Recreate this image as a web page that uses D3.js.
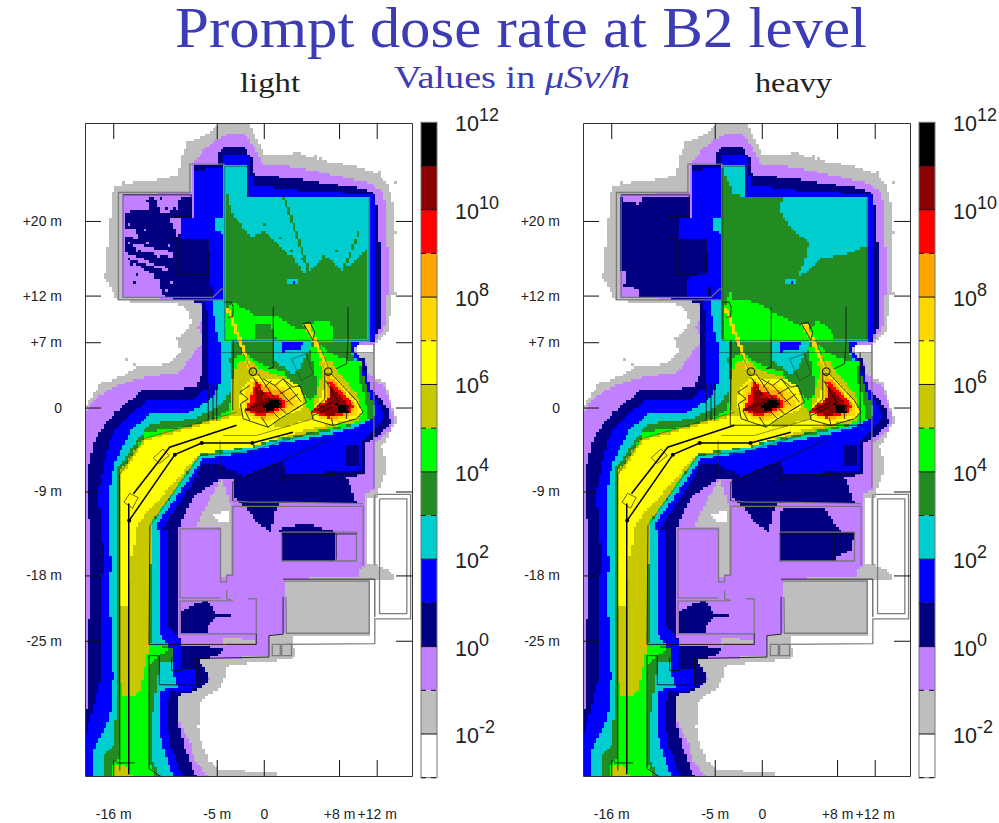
<!DOCTYPE html>
<html lang="en">
<head>
<meta charset="UTF-8">
<title>Prompt dose rate at B2 level</title>
<script src="https://d3js.org/d3.v7.min.js"></script>
<style>
html, body { margin: 0; padding: 0; background: #fff; overflow: hidden; }
.tick text { font-family: "Liberation Sans", Arial, sans-serif; font-size: 14px; fill: #222; }
.serif { font-family: "Liberation Serif", "Times New Roman", serif; }
.bar-label { font-family: "Liberation Sans", Arial, sans-serif; font-size: 21.5px; fill: #222; }
</style>
</head>
<body>
<svg id="chart" width="999" height="823"></svg>
<script>
// dose bands, one decade each, from 1e-3 up to 1e12 uSv/h
const levelColors = ["#ffffff", "#bebebe", "#c080ff", "#000080", "#0000ff", "#00cdcd", "#228b22", "#00ff00",
    "#c8c800", "#ffff00", "#ffd700", "#ffa500", "#ff0000", "#8b0000", "#000000"];
const barExponents = [12, 10, 8, 6, 4, 2, 0, -2];
const xTicks = [-16, -5, 0, 8, 12];
const yTicks = [20, 12, 7, 0, -9, -18, -25];

// contours, in metres. level = index in levelColors
const grayOuter = [[-4.85,30.5],[-1.5,30.5],[-0.8,28.8],[0.1,27.2],[3.5,27.25],[6.3,26.5],[10.2,25.75],[12.3,25],[13.2,23.8],[13.9,21.1],[13.9,14],[13.2,8.25],[11.8,6.8],[11.8,3.25],[12.85,2.7],[14.1,-1.4],[12.5,-4.25],[12.85,-5.3],[12.85,-7.1],[12,-9.25],[11.8,-16.75],[13.55,-17.65],[13.9,-18.35],[11.3,-18.45],[11.25,-24.3],[3.1,-24.5],[3.3,-26.75],[0.3,-27.3],[-3.8,-27.45],[-4.15,-28.9],[-4.65,-30.15],[-6.1,-30.85],[-6.8,-31.75],[-7,-34.25],[-6.6,-36],[-5.9,-37.8],[-4.65,-38.8],[1.4,-39.2],[1.5,-39.8],[-19,-39.8],[-19,0],[-17.4,2.5],[-14.9,3.4],[-13.7,4.3],[-10,4.7],[-8.9,5.9],[-9.1,7.5],[-7.7,9],[-8,10.4],[-8.9,11.1],[-12.8,11.3],[-15.5,11.5],[-16.9,14],[-16.35,20],[-16,23.4],[-14.6,24],[-12.1,24.3],[-9.1,24.85],[-8.75,26.8],[-8.2,28.25],[-5.4,29.7]];
const purpleOuter = [[-4.85,28.8],[-4,29.3],[-2,29.3],[-0.8,27.5],[-0.1,26.1],[3.5,25.75],[7,25],[10.9,24.15],[12.5,23.25],[13,21.8],[13.2,14],[13,9],[12.1,7.5],[11.7,6.8],[11.7,2.9],[12.85,2.2],[13.9,-1],[13.4,-2.5],[11.8,-3.9],[11.8,-8.7],[10.7,-9.25],[10.6,-16.9],[10.1,-17.4],[10.1,-18.25],[2.2,-18.35],[2.2,-24.25],[0.65,-24.3],[0.65,-26.75],[-7,-26.9],[-7,-28.5],[-5.55,-28.9],[-7.15,-30.3],[-9.2,-30.85],[-9.1,-33.5],[-7.85,-36],[-7.3,-37.8],[-5.9,-39.8],[-19,-39.8],[-19,-0.5],[-17.8,1.1],[-16,2.2],[-13.5,3.1],[-8.9,3.8],[-7.5,5.75],[-6.4,7.2],[-7,8.6],[-6.25,10.4],[-7,11.55],[-14.95,11.8],[-14.95,22.9],[-7.7,23.1],[-7.7,26.1],[-6.1,27.9]];
const grayStrip = [[-7.3,-12.8],[-4.45,-7.45],[-3.45,-10.7],[-3.45,-17.9],[-4.45,-18.1],[-4.45,-12.8]];
const grayLedge = [[-4.3,-24.6],[-0.8,-25],[-0.8,-25.3],[-4.3,-25.4]];
const whitePatch = [[-5.4,-11.4],[-3.6,-11],[-3.6,-12.3],[-4.65,-12.2]];
const whiteStrip = [[10.9,-9.6],[11.7,-9.6],[11.7,-16.9],[10.9,-16.9]];
const grayStub = [[9.5,6.7],[11.8,6.7],[11.8,3.25],[11.25,3.25],[10.7,5.2],[9.5,5.6]];
const whiteStub = [[9.8,6.6],[11.5,6.6],[11.5,6],[9.8,6]];
const navyOuter = [[-4.85,27],[-4.3,28],[-2.2,28.05],[-1.3,26.8],[-1.15,25],[3.5,24.5],[10.9,23.4],[11.9,22.9],[12.3,17.5],[12.5,9],[11.9,7.5],[11.7,7],[9.5,6.8],[9.65,5.4],[10.7,5.2],[11.25,2.2],[12.5,0.9],[13.2,-0.3],[13.55,-1.6],[12.15,-3],[10.7,-3.9],[10.7,-6.9],[10.55,-7.1],[8.8,-7.5],[9.85,-10.15],[2.25,-10.15],[1.35,-10.5],[0.8,-13.35],[-0.8,-12.3],[-1.85,-10.7],[-3.1,-9.6],[-3.25,-7.8],[-4.65,-7.65],[-7.5,-9.6],[-9.1,-13],[-9.1,-24.4],[-8.65,-25.5],[-4.3,-25.75],[-4.85,-26.75],[-7,-26.9],[-6.05,-28.5],[-6,-29.4],[-7.15,-30.3],[-9.05,-30.85],[-9.2,-33.5],[-8.55,-36],[-7.15,-39.8],[-19,-39.8],[-19,-32.9],[-18.6,-31.6],[-18.6,-28.9],[-18.85,-26.3],[-18.5,-21.75],[-18.3,-17.5],[-18.3,-12.5],[-18.85,-11.5],[-18.85,-7.1],[-17.95,-3.5],[-16.9,-1.9],[-15.8,-0.5],[-12.8,1.9],[-7.3,2.1],[-6.6,3.6],[-6.5,8.6],[-6.6,11.3],[-10.7,11.8],[-9.25,14.3],[-9.25,18.05],[-7.85,20.4],[-7.5,20.4],[-7.5,25.9],[-4.85,25.9]];
const navyRoomPatch = [[-8.75,-21.75],[-7.5,-21.2],[-6.1,-20.7],[-5,-22.1],[-3.2,-22.3],[-3.2,-22.5],[-5,-22.5],[-6.1,-23.35],[-6.1,-24.25],[-8.75,-24.25]];
const navyLabRoom = [[8.8,-3.9],[10.2,-3.9],[10.2,-6.2],[8.8,-6.2]];

// left room and east rooms are where the two beams differ most
const lightRoomNavy = [[-14.85,20.9],[-12.3,21.3],[-12.3,22.6],[-8.9,22.7],[-7.7,22.7],[-7.7,20.45],[-10,20.4],[-9.1,18.05],[-9.25,14.3],[-10.75,12],[-11.3,14],[-14.85,16.1]];
const lightRoomHoles = [
    [[-11.55,22.45],[-8.9,22.45],[-9.25,21.1],[-11,20.9]],
    [[-14.7,18.4],[-13.3,18.05],[-13.7,19.1],[-14.7,19.1]],
    [[-14.5,17.7],[-9.6,16.65],[-9.6,16.1],[-13.1,16.8]],
    [[-14.85,16.65],[-10.3,15],[-10.3,14.65],[-14.85,16.1]]
];
const lightEastNavy = [[1.7,-13],[4.5,-12.45],[7.7,-13.35],[7.7,-16.4],[2.05,-16.45],[1.9,-13.9]];
const heavyRoomNavy = [[-14.9,22.7],[-7.6,22.7],[-7.6,11.9],[-13.05,11.9],[-13.25,12.75],[-14.65,12.95],[-14.5,14.7],[-14.9,14.7]];
const heavyRoomHole = [[-14.85,22.6],[-12.7,22.6],[-13.05,21.7],[-13.75,22.05],[-14.85,22.05]];
const heavyEastNavy = [[2.15,-10.7],[6.55,-10.7],[8.3,-13.2],[9.9,-13.4],[9.55,-15.3],[8,-16],[7.8,-16.5],[1.9,-16.5],[1.8,-13.35]];
const heavyRoomBlue = [[-8.1,11.9],[-7.95,13.9],[-5.6,14.6],[-5.6,11.9]];

// isolated mesh bins that stick out of the contours
const graySpecks = [[-16.9,14],[-16.7,16.1],[-16.5,17.55],[-16.2,18.6],[-16,23.8],[-14.9,24.15],[-13.9,24.15],[-11.4,24.5],[-8.2,28.4],[-7.3,28.6],[3.5,27.45],[5.25,27],[5.95,26.8],[12,25.4],[13.7,24.3],[13.9,19],[13.55,12.9],[13.9,12.35],[-7.85,10.7],[-9.45,7.5],[-9.1,7],[-14.75,5.2],[-13.85,4.85],[-16.2,2.35],[-17.4,2.9],[-18.85,0.4]];
const lightNavySpecks = [[-12.45,22.35],[-11.9,22],[-11,22.45],[-10.5,21.45],[-9.8,21.45],[-8.55,22.2],[-13.85,13.6],[-11,13.25],[-11.6,14],[-13.5,14.3],[-14.2,15.4],[-12.45,15],[-11.6,15.4]];
const lightPurpleSpecks = [[-14.4,19.7],[-13.9,18.4],[-12.45,17.7],[-11.4,16.45],[-10.3,17.5],[-12.8,19.3],[-13.5,17]];
const lightForestSpecks = [[0,19.7],[1.7,18.25],[2.75,16.8],[3.8,16.1],[6.1,16.45],[7.7,16.8],[9.5,15.75]];

const blueOuter = [[-7.3,25.45],[-4.3,25.75],[-4.3,27.2],[-1.65,27.2],[-1.5,25.9],[-1.15,23.8],[5.25,23.1],[11.7,22.9],[11.8,14],[11.7,7.1],[10.4,7],[9.5,6.1],[10,5.6],[10.7,3.6],[11.6,1.45],[12.7,-0.5],[12.5,-1.6],[11.25,-2.65],[10.55,-3.5],[10.55,-6.9],[2.25,-7.1],[2,-5.7],[-2.2,-7.4],[-4.65,-6.1],[-6.45,-6],[-7.85,-8.5],[-10.85,-13],[-10.15,-13.2],[-10.15,-23.5],[-9.25,-24.4],[-8.75,-25.5],[-8.75,-28.2],[-7.2,-28.2],[-7.15,-30.15],[-10,-30.5],[-10.25,-32.5],[-10,-36],[-8.55,-39.8],[-19,-39.8],[-19,-35.5],[-18.4,-33.2],[-17.3,-28.9],[-17.2,-25],[-17.4,-21.75],[-17.1,-17],[-17.2,-13],[-17.6,-9.25],[-16.9,-5.7],[-16.35,-3.5],[-15.65,-2.1],[-12.45,0.7],[-7.7,0.75],[-5.9,2.2],[-6.1,3.6],[-5.9,8.6],[-6.25,11.3],[-5.4,12],[-5.75,14.3],[-5.9,18.05],[-8.9,18.05],[-8.9,20.2],[-7.3,20.4]];
const cyanOuter = [[-4.2,25.85],[-1.6,25.85],[-1.6,22.7],[11.2,22.7],[11.2,7.1],[9.3,7],[9.5,5.6],[10,5.2],[10.35,3.6],[10.9,1.45],[12,-0.3],[11.6,-1.2],[9.85,-2.1],[6.3,-3],[1.7,-3.9],[-1.5,-4.7],[-6.45,-5.5],[-11.55,-12.8],[-11.2,-13],[-11.2,-23.9],[-9.6,-26.75],[-9.6,-28.5],[-9.2,-30],[-11,-30.3],[-11.2,-34.25],[-10.85,-36],[-9.6,-39.8],[-18.25,-39.8],[-18.1,-36.75],[-16.35,-33.2],[-16,-28.9],[-16.35,-21.75],[-16.3,-16.4],[-16.5,-9.25],[-15.8,-5.7],[-14.2,-2.5],[-11.9,-0.5],[-7.85,-0.5],[-5.4,1.1],[-4.5,2.9],[-4.65,6.8],[-5.2,9],[-5.4,11.45],[-4.2,11.45]];
const cyanNotch = [[-5.2,20.2],[-4.2,20.2],[-4.2,18.4],[-5,19]];
const labBlue = [[2,7],[4.15,7],[3.8,6.3],[2,5.95]];
const labNavy = [[7.7,6.9],[8.8,6.9],[8.8,6.3],[7.7,6.3]];

const lightHallForest = [[-4.05,23.4],[-3.25,20.75],[-2.2,19.3],[-1.15,18.3],[-0.05,18.95],[1.35,17.55],[3.1,16.1],[4.35,14.3],[5.25,15],[6.5,16.3],[8.4,14.7],[11.1,17],[11.1,15],[11.1,7.2],[-4.05,7.2]];
const lightHallRays = [
    [[2.05,22.5],[2.3,22.5],[5,14.3],[4.75,14.3]],
    [[8.3,14.7],[8.6,14.7],[10.3,19],[10.1,19]]
];
const heavyHallForest = [[-4.2,25.75],[-3,22.9],[-1.9,22.6],[2.3,22.6],[1.8,21.45],[3,19.3],[5,17.7],[4.45,15.4],[3.75,13.8],[5.5,15.2],[6.4,16.1],[8.5,16.3],[11.25,17.35],[11.25,7.2],[-4.2,7.2]];
const hallCyanBox = [[2.6,13.8],[3.5,13.8],[3.5,13.2],[2.6,13.2]];
const hallBlueDot = [[3,13.65],[3.3,13.65],[3.3,13.3],[3,13.3]];
const lightHallGreen = [[-3.95,10.75],[-3.1,11.3],[-1.85,10.4],[-0.8,9.85],[1.7,9.7],[3.1,8.6],[4.55,8.25],[5.6,9.3],[6.85,9.3],[7.45,8.45],[7.2,7.1],[1.35,7.1],[0.8,9],[-0.8,9],[-0.95,7.35],[-3.95,7.1]];
const heavyHallGreen = [[-3.4,12.5],[-3,11.65],[-0.5,11.3],[1.6,10],[3.7,8.95],[5.3,8.25],[5.7,9.3],[6.9,8.75],[7.6,7.75],[7.45,7.1],[-4.05,7.1],[-4,10.4]];

const labForest = [[-3.3,7],[1.05,7],[1.15,5.05],[3.1,3.6],[3.8,4.3],[4.5,5.55],[5.25,7],[9.3,7],[9.5,5.2],[10.35,4.7],[10.55,3.25],[11.4,1.1],[11.6,-1],[9.85,-1.75],[6.3,-2.65],[1.7,-3.55],[-1.5,-4.3],[-6.8,-5.15],[-11.9,-12.45],[-12,-23.9],[-12,-25.6],[-9.6,-25.7],[-9.6,-27.1],[-11,-27.1],[-12,-34.25],[-11.9,-37.8],[-11,-39.8],[-17.05,-39.8],[-16.9,-37.1],[-16,-36.4],[-15.65,-32.5],[-15.6,-7.45],[-15.7,-6.75],[-13.35,-3.35],[-12.1,-1.75],[-7.3,-1.2],[-4.65,0.2],[-3.45,1.8],[-3.6,5.2]];
const labGreen = [[-3.2,5.2],[-2.2,5.8],[0.65,4.25],[2.05,3.8],[3.3,2.2],[4.9,0.9],[5.65,1.65],[5.4,4.3],[4.9,6.3],[5.95,6.9],[6.85,5.9],[9.15,5],[10.55,5.2],[10,3.6],[10.7,1.1],[11.1,-1],[10.2,-1.6],[5.95,-2.45],[1.7,-3.35],[-1.5,-4.05],[-6.7,-5],[-12.1,-12.65],[-12.15,-25.3],[-10,-25.9],[-11.55,-26.9],[-12.1,-27.45],[-12.1,-36],[-12.1,-38.2],[-11.4,-39.8],[-16.15,-39.8],[-16.15,-38.2],[-15.45,-37.8],[-15.35,-7.45],[-15.35,-6.95],[-13,-3.55],[-12.65,-2.65],[-7.3,-1.95],[-3.95,-0.5],[-3.25,1.45]];
const labOlive = [[-2.7,4.85],[-1.5,5.2],[-0.8,4.5],[0.8,3.6],[2.05,3.25],[3.45,2.45],[4.6,0.75],[4.6,-0.15],[5.25,-0.3],[5.6,1.65],[6.3,3.8],[5.85,5.05],[7.2,4.95],[8.05,3.6],[9.85,1.55],[10.5,-0.7],[9.85,-1.6],[7.35,-2],[4.9,-2.65],[-1.15,-3.9],[-6.7,-4.9],[-11.95,-12.3],[-12.3,-26],[-12.8,-28.9],[-13.35,-30.7],[-14.9,-31],[-15.3,-28.9],[-15.3,-7.45],[-15.35,-6.95],[-12.8,-3.35],[-3.95,-0.85],[-3.3,-0.5],[-3.45,1.45],[-3.2,4]];
const footOlive = [[-16,-38.4],[-15,-38.2],[-13.6,-39.8],[-16,-39.8]];
const tunnelYellow = [[-12.65,-3.55],[-2.9,-0.85],[-0.8,-1.55],[2.05,-2.1],[5.25,-1.2],[7.7,-1],[7.7,-1.55],[4.9,-2.3],[1.35,-3.35],[-1.5,-4.25],[-6.85,-4.95],[-13.45,-12.45],[-13.7,-14.6],[-14.3,-17.1],[-14.4,-21.4],[-15.2,-21.4],[-15.2,-7.3]];
const beamLeft = [[-4.05,10.75],[-3.65,10.75],[-1.3,4.3],[-1.7,4.3]];
const beamRight = [[4.25,9],[4.9,9],[5.45,7.6],[6.95,4.3],[6.55,4.3],[5.1,7.2]];

const hotLeft = [
    [9,[[-2.37,2.18],[-1.49,2.71],[-0.96,3.6],[-0.07,3.07],[2.41,3.07],[3.82,2.18],[4.35,0.57],[4,-0.14],[1.7,-1.21],[0.28,-2.1],[-2.19,-1.21],[-2.55,0.39]]],
    [10,[[-1.84,2],[-0.96,3.25],[-0.25,2.54],[1.7,2.36],[3.1,1.64],[3.82,0.2],[1.7,-0.86],[0.28,-1.57],[-1.84,-0.86],[-2.19,0.57]]],
    [11,[[-0.96,3.07],[0.28,2.18],[2.05,1.82],[2.76,0.2],[1.34,-0.68],[-0.07,-1.21],[-1.84,-0.5],[-1.49,0.93]]],
    [12,[[-0.78,2.9],[0.1,1.64],[1.7,1.29],[2.48,0.2],[1.17,-0.5],[-0.25,-0.96],[-2.02,-0.32],[-1.49,0.75]]],
    [13,[[-0.78,2.36],[0.1,1.1],[1.7,0.93],[2.05,0.2],[0.64,-0.5],[-0.25,-0.68],[-1.84,-0.25],[-0.96,0.57]]],
    [14,[[-0.07,0.2],[0.81,0.93],[1.88,0.57],[1.7,-0.04],[0.46,-0.32]]]
];
const hotRight = [
    [9,[[5.41,0.04],[6.3,1.46],[6.48,3.79],[7.18,3.6],[9.84,0.75],[10.47,-0.5],[9.66,-1.21],[7.36,-1.75],[5.41,-1.32]]],
    [10,[[5.66,-0.32],[6.58,1.29],[6.58,3.43],[7.36,3.25],[9.91,0.2],[9.84,-0.86],[7.36,-1.46],[5.66,-0.96]]],
    [11,[[6.83,3.25],[7.54,2.9],[9.66,0.2],[9.3,-0.68],[7.18,-1.21],[5.41,-0.68],[6.83,1.1]]],
    [12,[[6.83,2.9],[7.54,2.54],[9.55,0.2],[9.13,-0.6],[6.83,-1.1],[5.17,-0.5],[5.66,0.2],[7.08,1.1]]],
    [13,[[7.08,2.18],[8.77,0.57],[9.06,-0.32],[6.83,-0.96],[5.41,-0.32],[6.83,0.57]]],
    [14,[[7.71,0.39],[8.77,0.2],[8.95,-0.5],[7.89,-0.5]]]
];

// geometry of the building, shared by both panels
const wallsFaint = [
    [[-4.15,25.85],[-1.6,25.85],[-1.6,22.7],[11.2,22.7],[11.2,7.2],[-4.15,7.2],[-4.15,25.85]],
    [[-4.65,5.9],[11.7,5.9]],
    [[-12.8,-3.35],[-2.9,-0.5]],
    [[-15.3,-7.1],[-12.8,-3.35]],
    [[-12.1,-12.65],[-6.8,-5.15],[-1.5,-4.7],[5.25,-2.65]],
    [[-4.3,-3],[-0.8,-3],[5.25,-1.2]],
    [[-4.65,-3.55],[-4.6,-7.1]],
    [[-2.9,7.2],[-1.15,3.6]],
    [[5.75,7.2],[6.85,4.3]],
    [[2.95,5.2],[4.5,5.75],[5.25,3.6],[4,2.9],[2.95,5.2]]
];
const wallsGray = [
    [[-4.15,26.1],[-7.85,26.1],[-7.85,23.05],[-15.45,23.05],[-15.45,11.55],[-4.3,11.55]],
    [[-14.95,22.8],[-14.95,11.8],[-5.4,11.8],[-4.5,12.7],[-4.15,12.7]],
    [[11.7,6.8],[11.7,-8.6]],
    [[-3.3,-10],[-1.5,-10.15],[2.05,-10.15],[10.55,-10.3]],
    [[-3.3,-10.6],[10.55,-10.6],[10.55,-16.9]],
    [[-3.3,-10.6],[-3.3,-18],[-3.95,-18],[-3.95,-18.7],[-4.6,-18.7],[-4.6,-13],[-8.9,-13],[-8.9,-20.4],[-4.6,-20.4]],
    [[-3.95,-19.6],[-3.95,-20.5],[-3.3,-20.7],[-8.9,-20.75],[-8.9,-24.25],[-0.8,-24.25],[-0.8,-20.5],[-1.65,-20.5]],
    [[1.9,-13.35],[9.85,-13.35],[9.85,-16.45],[1.9,-16.45],[1.9,-13.35]],
    [[2.2,-18.6],[11.2,-18.6],[11.2,-24.2],[2.4,-24.2],[2.35,-20.3]],
    [[12.3,-9.8],[15.2,-9.8],[15.2,-22.1],[12.3,-22.1],[12.3,-9.8]],
    [[12,-9.3],[15.6,-9.3],[15.6,-22.65],[11.8,-22.65],[11.8,-25.3],[2.4,-25.4]],
    [[11.8,-9.3],[11.8,-16.9]],
    [[0.9,-25.4],[1.75,-25.4],[1.75,-26.6],[0.9,-26.6],[0.9,-25.4]],
    [[1.9,-25.4],[2.95,-25.4],[2.95,-26.6],[1.9,-26.6],[1.9,-25.4]]
];
const wallsDark = [
    [[-14.95,22.8],[-7.7,22.8],[-7.7,20.45],[-10.05,20.45]],
    [[-10,18.05],[-9.1,18.05],[-9.1,14.3],[-5.9,14.3],[-5.9,18.05]],
    [[-4.15,11.3],[-3.45,11.3],[-3.25,10.75],[-3.3,9.7],[-3.8,9.7]],
    [[1,10.75],[1,4.3],[0.45,4.15]],
    [[8.95,10.75],[8.95,7.2],[8.8,4.7],[7.7,4.15]],
    [[-3.25,7.2],[-3.3,-0.3]],
    [[4.2,9],[4.9,9.15],[5.4,8.1],[5.2,7.2],[4.85,7.9],[4.2,9]],
    [[-15.3,-7.1],[-15.3,-38.9]],
    [[-12.1,-12.65],[-12.2,-25.4],[-0.8,-25.4],[-0.8,-24.25]],
    [[-12.2,-26.6],[-12.2,-38.7],[-10.85,-39.6]],
    [[-12.2,-26.6],[-11.1,-26.6],[-11.1,-29.7],[-7.15,-29.8],[-7.15,-26.9],[0.55,-26.75],[0.55,-24.45],[2.05,-24.3],[2.05,-20.3]],
    [[-9.8,-26.8],[-9.8,-28.2],[-8.75,-28.2],[-8.75,-25.7]],
    [[-3.3,-8],[2.05,-5.7],[6.65,-3.55]],
    [[2.05,-5.7],[2.05,-8],[2.4,-7.3],[10.55,-7.1]],
    [[-3.3,-8],[-3.3,-10]],
    [[1.9,-13.55],[9.85,-13.55]],
    [[7.7,-13.55],[7.7,-16.3]],
    [[2.05,-18.4],[11.8,-18.4],[11.8,-22.45]],
    [[-15.65,-38.1],[-13.7,-38.1]],
    [[-5.9,2.5],[-5.9,-1.4]],
    [[-5.4,2.5],[-5.4,-1.4]],
    [[-5,2.5],[-5,-1.4]],
    // shielding blocks round the two targets
    [[-0.07,3.07],[1.17,2.36],[2.05,3.07],[3.11,2.18],[3.82,2.36],[4.53,0.57],[1.7,-1.21],[0.46,-2.11],[-2.19,-1.21],[-2.48,0.39],[-1.66,0.93],[-2.55,1.64],[-1.49,2.36]],
    [[0.11,2.18],[0.81,2.89]],
    [[1.17,2.36],[3.11,0.21]],
    [[2.05,3.07],[4,0.57]],
    [[-0.07,1.64],[2.41,-0.68]],
    [[1.7,1.46],[2.94,2.18]],
    [[2.41,0.57],[3.64,1.46]],
    [[3.11,-0.32],[4,0.21]],
    [[1.7,-1.21],[0.99,-0.5]],
    [[0.46,-2.11],[-0.25,-1.04]],
    [[-2.02,-0.32],[0.28,0.57]],
    [[-1.49,-1.39],[-2.02,-0.32]],
    [[-1.13,3.25],[0.46,0.57]],
    [[-0.6,3.6],[1.17,0.93]],
    [[6.48,3.6],[7.18,3.6],[9.84,0.75],[10.55,-0.5],[9.84,-1.21],[7.36,-1.93],[5.24,-1.32],[5.06,-0.5],[6.48,0.93],[6.48,3.6]],
    [[8.78,-1.21],[8.78,0.39]],
    [[5.41,-0.32],[7.36,0.57]],
    [[5.24,-0.86],[7.18,0.04]],
    [[6.58,2.89],[8.07,0.39]],
    [[7.36,-1.93],[7.18,-1.11]],
    [[9.48,0.57],[8.78,-0.14]]
];
const heavyWalls = [[[-3.35,7.1],[-3.35,-1.9],[10.45,-1.9],[10.45,5.9]]];
const beamLines = [
    [[-14.35,-10.3],[-14.35,-39.3]],
    [[-14.3,-12.1],[-9.45,-5.05],[-6.6,-3.8],[-1.2,-3.8],[3.1,-2.65]],
    [[-13.85,-9.25],[-10,-4.25],[-2.9,-1.9]]
];
const beamDots = [[-14.3,-12.1],[-9.45,-5.05],[-6.6,-3.8],[-1.2,-3.8]];
const magnets = [
    [[-11.75,-5.4],[-10.7,-4.45],[-10.05,-5.15],[-11.1,-6],[-11.75,-5.4]],
    [[-14.85,-10.15],[-14.25,-9.2],[-13.35,-9.65],[-13.95,-10.8],[-14.85,-10.15]]
];
const targetRings = [[-1.15,3.85],[6.85,3.85]];

const step = 0.283;
const poly = (level, points) => [level, points];
const speck = level => ([a, b]) => [level, [[a, b], [a + step, b], [a + step, b - step], [a, b - step]]];
// painted in order, the last polygon holding a cell wins
const baseStack = [
    poly(1, grayOuter)].concat(graySpecks.map(speck(1)), [
    poly(2, purpleOuter), poly(1, grayStrip), poly(1, grayLedge), poly(0, whitePatch),
    poly(0, whiteStrip), poly(1, grayStub), poly(0, whiteStub), poly(3, navyOuter), poly(3, navyRoomPatch)
]);
const lightStack = baseStack.concat(
    [poly(3, lightRoomNavy)], lightRoomHoles.map(h => poly(2, h)), [poly(3, lightEastNavy)],
    lightNavySpecks.map(speck(3)), lightPurpleSpecks.map(speck(2)),
    [poly(4, blueOuter), poly(3, navyLabRoom), poly(5, cyanOuter), poly(5, cyanNotch), poly(4, labBlue), poly(3, labNavy), poly(6, lightHallForest)],
    lightHallRays.map(r => poly(6, r)), lightForestSpecks.map(speck(6)), [poly(7, lightHallGreen)]
);
const heavyStack = baseStack.concat(
    [poly(3, heavyRoomNavy), poly(2, heavyRoomHole), poly(3, heavyEastNavy)],
    [poly(4, blueOuter), poly(3, navyLabRoom), poly(4, heavyRoomBlue), poly(5, cyanOuter), poly(5, cyanNotch), poly(4, labBlue), poly(3, labNavy), poly(6, heavyHallForest), poly(7, heavyHallGreen)]
);
const topStack = [
    poly(5, hallCyanBox), poly(4, hallBlueDot), poly(6, labForest), poly(7, labGreen), poly(8, labOlive), poly(8, footOlive),
    poly(9, tunnelYellow), poly(10, beamLeft), poly(10, beamRight)
].concat(hotLeft, hotRight);

const svg = d3.select("#chart");
const panelW = 327, panelH = 653, panelTop = 123;

// shared colour bar scale
const barScale = d3.scaleLog().domain([1e12, 1e-3]).range([122.3, 777.7]);

function drawPanel(left, label, labelX, labelLen, stack, extraWalls) {
    const g = svg.append("g");
    const x = d3.scaleLinear().domain([-19, 15.75]).range([left, left + panelW]);
    const y = d3.scaleLinear().domain([30.5, -39.5]).range([panelTop, panelTop + panelH]);
    const layers = stack.concat(topStack);

    // bin the contours on the scoring mesh, merge runs along each row
    const runs = [];
    for (let j = 0; 30.5 - j * step > -39.5; j++) {
        const yTop = 30.5 - j * step, yc = yTop - step / 2;
        let start = null, cur = 0;
        for (let i = 0; ; i++) {
            const xl = -19 + i * step, xc = xl + step / 2;
            let lev = 0;
            if (xl < 15.75) {
                for (let k = layers.length - 1; k >= 0; k--) {
                    if (d3.polygonContains(layers[k][1], [xc, yc])) { lev = layers[k][0]; break; }
                }
            }
            if (lev !== cur) {
                if (cur > 0) runs.push({ x0: start, x1: xl, y0: yTop, y1: Math.max(yTop - step, -39.5), level: cur });
                start = xl; cur = lev;
            }
            if (xl >= 15.75) break;
        }
    }
    g.append("g").attr("shape-rendering", "crispEdges").selectAll("rect").data(runs).join("rect")
        .attr("x", d => x(d.x0))
        .attr("width", d => x(Math.min(d.x1, 15.75)) - x(d.x0))
        .attr("y", d => y(d.y0))
        .attr("height", d => y(d.y1) - y(d.y0) + 0.4)
        .attr("fill", d => levelColors[d.level]);

    const line = d3.line().x(d => x(d[0])).y(d => y(d[1]));
    const drawLines = (list, color, width, opacity) => g.append("g").selectAll("path").data(list).join("path")
        .attr("d", line).attr("fill", "none").attr("stroke", color).attr("stroke-width", width).attr("stroke-opacity", opacity);
    drawLines(wallsFaint, "#222", 0.9, 0.55);
    drawLines(wallsGray, "#777", 1.3, 0.95);
    drawLines(wallsDark, "#111", 1, 0.85);
    drawLines(extraWalls, "#111", 1, 0.85);
    drawLines(magnets, "#665500", 1, 0.9);
    drawLines(beamLines, "#000", 1.5, 1);
    g.append("g").selectAll("circle").data(beamDots).join("circle")
        .attr("cx", d => x(d[0])).attr("cy", d => y(d[1])).attr("r", 2).attr("fill", "#000");
    g.append("g").selectAll("circle").data(targetRings).join("circle")
        .attr("cx", d => x(d[0])).attr("cy", d => y(d[1])).attr("r", x(0.4) - x(0))
        .attr("fill", "none").attr("stroke", "#222").attr("stroke-width", 1.2);

    // frame and inward ticks
    const fmtX = d => d > 0 ? "+" + d + " m" : d === 0 ? "0" : d + " m";
    const inner = -16;
    const axes = g.append("g");
    axes.append("g").attr("transform", `translate(0,${panelTop + panelH})`)
        .call(d3.axisBottom(x).tickValues(xTicks).tickSizeInner(inner).tickSizeOuter(0).tickPadding(33).tickFormat(fmtX));
    axes.append("g").attr("transform", `translate(0,${panelTop})`)
        .call(d3.axisTop(x).tickValues(xTicks).tickSizeInner(inner).tickSizeOuter(0).tickFormat(""));
    axes.append("g").attr("transform", `translate(${left},0)`)
        .call(d3.axisLeft(y).tickValues(yTicks).tickSizeInner(inner).tickSizeOuter(0).tickPadding(23).tickFormat(fmtX));
    axes.append("g").attr("transform", `translate(${left + panelW},0)`)
        .call(d3.axisRight(y).tickValues(yTicks).tickSizeInner(inner).tickSizeOuter(0).tickFormat(""));
    axes.selectAll(".domain").attr("stroke", "#333");
    axes.selectAll(".tick line").attr("stroke", "#111");

    g.append("text").attr("class", "serif").attr("x", labelX).attr("y", 92)
        .attr("font-size", 28).attr("fill", "#222")
        .attr("textLength", labelLen).attr("lengthAdjust", "spacingAndGlyphs").text(label);

    // colour bar, solid edge at even decades and dashed at odd ones
    const barX = left + panelW + 9, barW = 16;
    const bar = g.append("g");
    const bands = levelColors.map((c, i) => ({ color: c, lo: Math.pow(10, i - 3), hi: Math.pow(10, i - 2), exp: i - 3 }));
    bar.selectAll("rect").data(bands).join("rect")
        .attr("x", barX).attr("width", barW)
        .attr("y", d => barScale(d.hi)).attr("height", d => barScale(d.lo) - barScale(d.hi))
        .attr("fill", d => d.color);
    bar.append("rect").attr("x", barX).attr("y", barScale(1e12)).attr("width", barW).attr("height", barScale(1e-3) - barScale(1e12))
        .attr("fill", "none").attr("stroke", "#777").attr("stroke-width", 1);
    bar.selectAll("line").data(bands).join("line")
        .attr("x1", barX).attr("x2", barX + barW)
        .attr("y1", d => barScale(d.lo)).attr("y2", d => barScale(d.lo))
        .attr("stroke", "#111").attr("stroke-width", 1)
        .attr("stroke-dasharray", d => d.exp % 2 === 0 ? null : "5,5");
    const labels = bar.selectAll("text").data(barExponents).join("text")
        .attr("class", "bar-label").attr("x", barX + 34)
        .attr("y", d => barScale(Math.pow(10, d)) + 9);
    labels.append("tspan").text("10");
    labels.append("tspan").attr("dy", -10).attr("font-size", 18).text(d => d);
}

drawPanel(85, "light", 240, 60, lightStack, []);
drawPanel(583, "heavy", 755, 77, heavyStack, heavyWalls);

svg.append("text").attr("class", "serif").attr("x", 175).attr("y", 47)
    .attr("font-size", 57).attr("fill", "#3c3cb4")
    .attr("textLength", 692).attr("lengthAdjust", "spacingAndGlyphs")
    .text("Prompt dose rate at B2 level");
const sub = svg.append("text").attr("class", "serif").attr("x", 394).attr("y", 88)
    .attr("font-size", 31).attr("fill", "#3c3cb4")
    .attr("textLength", 236).attr("lengthAdjust", "spacingAndGlyphs");
sub.append("tspan").text("Values in ");
sub.append("tspan").attr("font-style", "italic").text("μSv/h");
</script>
</body>
</html>
